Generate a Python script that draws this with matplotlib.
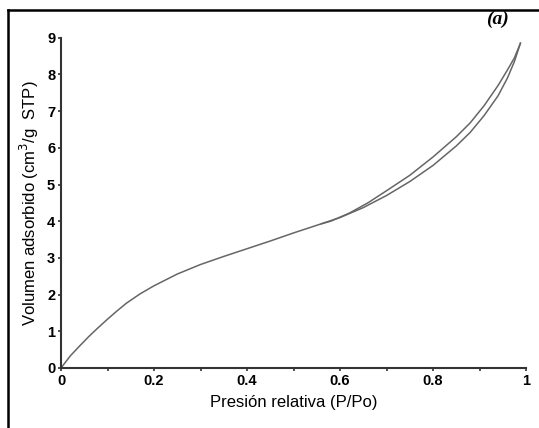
import matplotlib
matplotlib.use('Agg')
import matplotlib.pyplot as plt
from matplotlib.lines import Line2D
from matplotlib.ticker import MultipleLocator

# adsorption branch (lower)
p_ads = [0, 0.02, 0.04, 0.06, 0.08, 0.10, 0.12, 0.14, 0.17, 0.20, 0.25,
         0.30, 0.35, 0.40, 0.45, 0.50, 0.56, 0.60, 0.65, 0.70, 0.75, 0.80,
         0.85, 0.88, 0.91, 0.94, 0.96, 0.975, 0.988]
v_ads = [0, 0.33, 0.60, 0.86, 1.10, 1.33, 1.55, 1.76, 2.02, 2.24, 2.56,
         2.82, 3.04, 3.25, 3.46, 3.68, 3.93, 4.10, 4.37, 4.70, 5.08, 5.52,
         6.05, 6.42, 6.88, 7.42, 7.90, 8.35, 8.85]
# desorption branch (upper)
p_des = [0.56, 0.58, 0.62, 0.66, 0.70, 0.75, 0.80, 0.85, 0.88, 0.91, 0.94,
         0.96, 0.975, 0.988]
v_des = [3.93, 4.00, 4.22, 4.50, 4.83, 5.25, 5.75, 6.30, 6.68, 7.15, 7.70,
         8.12, 8.45, 8.85]

fig = plt.figure(figsize=(5.39, 4.28), dpi=100)
ax = fig.add_axes([0.1132, 0.1402, 0.8627, 0.7717])

ax.plot(p_ads, v_ads, color='#666666', lw=1.1)
ax.plot(p_des, v_des, color='#666666', lw=1.1)

ax.set_xlim(0, 1)
ax.set_ylim(0, 9)
ax.spines['top'].set_visible(False)
ax.spines['right'].set_visible(False)
for s in ['left', 'bottom']:
    ax.spines[s].set_linewidth(1.5)
    ax.spines[s].set_color('#333333')

ax.xaxis.set_minor_locator(MultipleLocator(0.1))
ax.yaxis.set_major_locator(MultipleLocator(1))
ax.set_xticks([0, 0.2, 0.4, 0.6, 0.8, 1.0])
ax.set_xticklabels(['0', '0.2', '0.4', '0.6', '0.8', '1'])
ax.tick_params(which='both', direction='out', length=2.2, width=1.2,
               color='#333333', pad=2)
for lab in ax.get_xticklabels() + ax.get_yticklabels():
    lab.set_fontfamily('Liberation Sans')
    lab.set_fontweight('bold')
    lab.set_fontsize(10.5)

ax.set_xlabel('Presión relativa (P/Po)', family='Liberation Sans',
              fontsize=12, labelpad=5)
ax.set_ylabel('Volumen adsorbido (cm$^3$/g  STP)', family='Liberation Sans',
              fontsize=12, labelpad=4)

fig.text(0.922, 0.955, '(a)', family='Liberation Serif', fontweight='bold',
         style='italic', fontsize=14, ha='center', va='center')

# outer frame (only left and top visible)
fig.add_artist(Line2D([0.0148, 0.0148], [0, 0.9755], color='black', lw=1.8,
                      transform=fig.transFigure))
fig.add_artist(Line2D([0.0148, 1.0], [0.9755, 0.9755], color='black', lw=1.8,
                      transform=fig.transFigure))

fig.savefig('out.png', dpi=100)
